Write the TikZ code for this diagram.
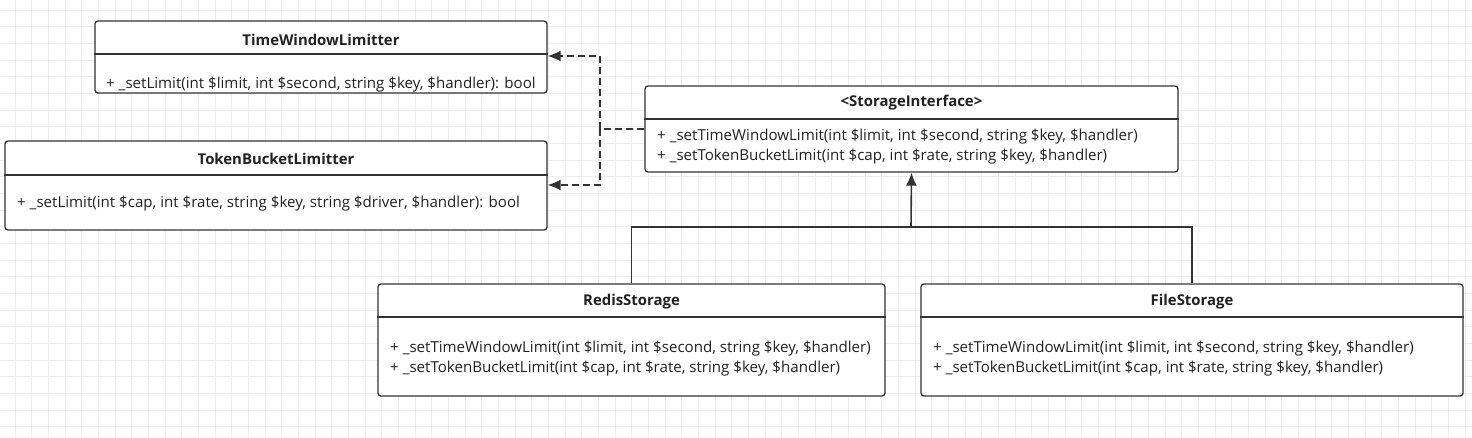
\documentclass[tikz,border=0pt]{standalone}
\usepackage{fontspec}
\setmainfont{Open Sans}
\usetikzlibrary{arrows.meta}
\definecolor{ln}{HTML}{333333}
\definecolor{tx}{HTML}{222222}
\definecolor{gr}{HTML}{EDEDED}
\tikzset{
  box/.style={draw=ln, line width=1.3pt, rounded corners=3pt, fill=white, inner sep=0pt},
  divider/.style={draw=ln, line width=1.1pt},
  title/.style={font=\fontsize{14.9}{16}\selectfont\bfseries, text=tx, inner sep=0pt},
  meth/.style={font=\fontsize{15.1}{20}\selectfont, text=tx, inner sep=0pt, align=left, anchor=west},
  dep/.style={draw=ln, line width=1.6pt, dash pattern=on 7pt off 4pt, -{Latex[length=13pt,width=11pt]}},
  inh/.style={draw=ln, line width=1.6pt},
}
\begin{document}
\begin{tikzpicture}[x=1pt,y=-1pt]
\useasboundingbox (0,0) rectangle (1472,437);
\fill[white] (0,0) rectangle (1472,437);
% grid
\foreach \i in {0,...,88} {\draw[gr, line width=1pt] ({-1.67+16.67*\i},0) -- ({-1.67+16.67*\i},437);}
\foreach \j in {0,...,26} {\draw[gr, line width=1pt] (0,{-6.67+16.67*\j}) -- (1472,{-6.67+16.67*\j});}

% TimeWindowLimitter
\node[box, minimum width=452pt, minimum height=72pt] (tw) at (321,57) {};
\node[title] (twt) at (321,40) {TimeWindowLimitter};
\draw[divider] (tw.west |- 0,54) -- (tw.east |- 0,54);
\node[meth] (twm) at (106,85) {+ \_setLimit(int \$limit, int \$second, string \$key, \$handler): bool};

% TokenBucketLimitter
\node[box, minimum width=542pt, minimum height=89pt] (tb) at (276,185.5) {};
\node[title] (tbt) at (276,159) {TokenBucketLimitter};
\draw[divider] (tb.west |- 0,175) -- (tb.east |- 0,175);
\node[meth] (tbm) at (17,204) {+ \_setLimit(int \$cap, int \$rate, string \$key, string \$driver, \$handler): bool};

% StorageInterface
\node[box, minimum width=533pt, minimum height=86pt] (si) at (911.5,129) {};
\node[title] (sit) at (911.5,103) {<StorageInterface>};
\draw[divider] (si.west |- 0,119) -- (si.east |- 0,119);
\node[meth] (sim) at (657,147) {+ \_setTimeWindowLimit(int \$limit, int \$second, string \$key, \$handler)\\+ \_setTokenBucketLimit(int \$cap, int \$rate, string \$key, \$handler)};

% RedisStorage
\node[box, minimum width=507pt, minimum height=112pt] (rs) at (631.5,340) {};
\node[title] (rst) at (631.5,302) {RedisStorage};
\draw[divider] (rs.west |- 0,317) -- (rs.east |- 0,317);
\node[meth] (rsm) at (390,358.5) {+ \_setTimeWindowLimit(int \$limit, int \$second, string \$key, \$handler)\\+ \_setTokenBucketLimit(int \$cap, int \$rate, string \$key, \$handler)};

% FileStorage
\node[box, minimum width=542pt, minimum height=112pt] (fs) at (1192,340) {};
\node[title] (fst) at (1192,302) {FileStorage};
\draw[divider] (fs.west |- 0,317) -- (fs.east |- 0,317);
\node[meth] (fsm) at (933,358.5) {+ \_setTimeWindowLimit(int \$limit, int \$second, string \$key, \$handler)\\+ \_setTokenBucketLimit(int \$cap, int \$rate, string \$key, \$handler)};

% dependency connectors
\coordinate (split) at (600,129);
\draw[dep] (si.west) -- (split) |- (tw.east |- 0,56);
\draw[dep] (si.west) -- (split) |- (tb.east |- 0,185);

% inheritance
\coordinate (jn) at (911,227);
\draw[inh] (rs.north) |- (jn) -| (fs.north);
\draw[inh, -{Latex[length=13pt,width=11pt]}] (jn) -- (si.south);
\end{tikzpicture}
\end{document}
